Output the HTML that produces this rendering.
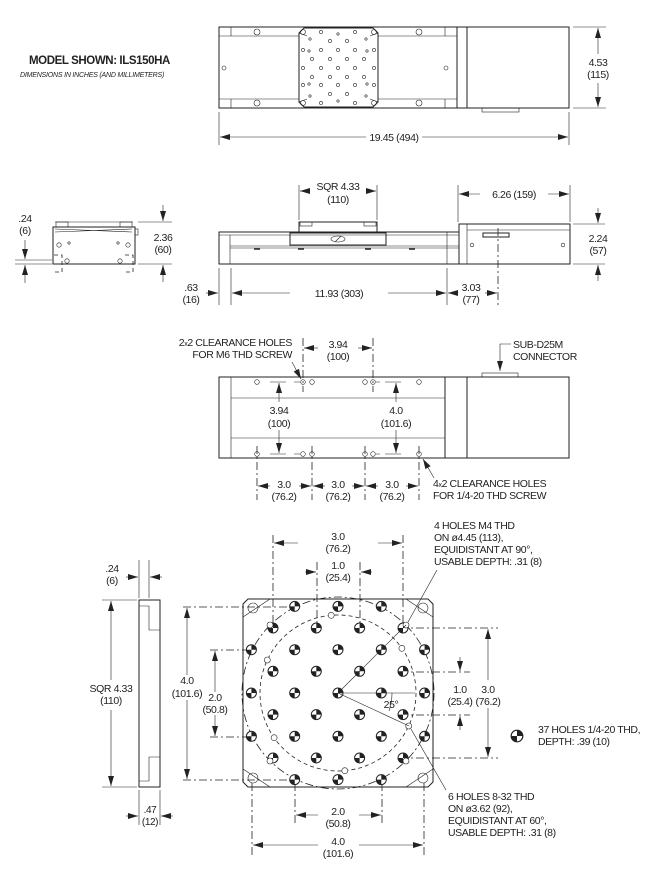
<!DOCTYPE html>
<html><head><meta charset="utf-8"><style>
html,body{margin:0;padding:0;background:#fff}
svg{display:block}
text{font-family:"Liberation Sans",sans-serif;font-size:10.5px;fill:#222;letter-spacing:-0.4px}
.m{text-anchor:middle}
.l{stroke:#222;stroke-width:1;fill:none}
.t{stroke:#222;stroke-width:0.6;fill:none}
.d{stroke:#222;stroke-width:0.8;fill:none;stroke-dasharray:8 3 2 3}
.dd{stroke:#222;stroke-width:0.8;fill:none;stroke-dasharray:4 3}
</style></head><body>
<svg width="663" height="879" viewBox="0 0 663 879" xmlns="http://www.w3.org/2000/svg">
<defs>
<marker id="a" viewBox="0 0 10 6" refX="10" refY="3" markerWidth="10" markerHeight="6" orient="auto-start-reverse" markerUnits="userSpaceOnUse"><path d="M0,0 L10,3 L0,6 z" fill="#222"/></marker>
<symbol id="h" viewBox="-6 -6 12 12" width="12" height="12" overflow="visible">
<circle r="5" fill="#fff" stroke="#222" stroke-width="1"/>
<path d="M0,0 L5,0 A5,5 0 0 0 0,-5 Z M0,0 L-5,0 A5,5 0 0 0 0,5 Z" fill="#222"/>
</symbol>
</defs>

<!-- title -->
<text x="29" y="64" style="font-weight:bold;font-size:11.5px">MODEL SHOWN: ILS150HA</text>
<text x="20" y="77" style="font-style:italic;font-size:7px;letter-spacing:-0.2px">DIMENSIONS IN INCHES (AND MILLIMETERS)</text>

<!-- TOP VIEW -->
<rect x="219" y="27" width="350" height="81" class="l"/>
<line x1="231" y1="27" x2="231" y2="36" class="t"/><line x1="231" y1="99" x2="231" y2="108" class="t"/>
<line x1="219" y1="36" x2="299" y2="36" class="t"/><line x1="378" y1="36" x2="457" y2="36" class="t"/>
<line x1="219" y1="99" x2="299" y2="99" class="t"/><line x1="378" y1="99" x2="457" y2="99" class="t"/>
<line x1="445" y1="27" x2="445" y2="36" class="t"/><line x1="445" y1="99" x2="445" y2="108" class="t"/>
<line x1="457" y1="27" x2="457" y2="108" class="l"/><line x1="467" y1="27" x2="467" y2="108" class="l"/>
<path d="M304,28 L373,28 L378,33 L378,102 L373,107 L304,107 L299,102 L299,33 Z" class="l" fill="#fff"/>
<path d="M299,33 L307,36 M378,33 L370,36 M299,102 L307,99 M378,102 L370,99" class="t"/>
<g class="t">
<circle cx="257" cy="32" r="3"/><circle cx="419" cy="32" r="3"/><circle cx="257" cy="103" r="3"/><circle cx="419" cy="103" r="3"/>
<circle cx="303" cy="32" r="2.5"/><circle cx="374" cy="32" r="2.5"/><circle cx="303" cy="103" r="2.5"/><circle cx="374" cy="103" r="2.5"/>
<circle cx="224" cy="68" r="2"/><circle cx="446" cy="68" r="2"/>
<circle cx="321" cy="32" r="1.6"/><circle cx="338" cy="34" r="1.2"/><circle cx="355" cy="32" r="1.6"/>
<circle cx="310" cy="39" r="1.2"/><circle cx="330" cy="41" r="1.6"/><circle cx="347" cy="41" r="1.6"/><circle cx="366" cy="39" r="1.2"/>
<circle cx="303" cy="50" r="1.6"/><circle cx="309" cy="51" r="1.2"/><circle cx="321" cy="50" r="1.6"/><circle cx="338" cy="50" r="1.6"/><circle cx="355" cy="50" r="1.6"/><circle cx="367" cy="51" r="1.2"/><circle cx="374" cy="50" r="1.6"/>
<circle cx="312" cy="59" r="1.6"/><circle cx="330" cy="59" r="1.6"/><circle cx="347" cy="59" r="1.6"/><circle cx="364" cy="59" r="1.6"/>
<circle cx="303" cy="68" r="1.6"/><circle cx="321" cy="68" r="1.6"/><circle cx="338" cy="68" r="1.6"/><circle cx="355" cy="68" r="1.6"/><circle cx="374" cy="68" r="1.6"/>
<circle cx="312" cy="77" r="1.6"/><circle cx="330" cy="77" r="1.6"/><circle cx="347" cy="77" r="1.6"/><circle cx="364" cy="77" r="1.6"/>
<circle cx="303" cy="85" r="1.6"/><circle cx="309" cy="84" r="1.2"/><circle cx="321" cy="85" r="1.6"/><circle cx="338" cy="85" r="1.6"/><circle cx="355" cy="85" r="1.6"/><circle cx="367" cy="84" r="1.2"/><circle cx="374" cy="85" r="1.6"/>
<circle cx="310" cy="96" r="1.2"/><circle cx="330" cy="94" r="1.6"/><circle cx="347" cy="94" r="1.6"/><circle cx="366" cy="96" r="1.2"/>
<circle cx="321" cy="103" r="1.6"/><circle cx="338" cy="101" r="1.2"/><circle cx="355" cy="103" r="1.6"/>
</g>
<rect x="482" y="108" width="37" height="4" class="t"/>
<line x1="219" y1="112" x2="219" y2="145" class="t"/><line x1="569" y1="112" x2="569" y2="145" class="t"/>
<line x1="220" y1="137" x2="366" y2="137" class="t" marker-start="url(#a)"/><line x1="422" y1="137" x2="568" y2="137" class="t" marker-end="url(#a)"/>
<text x="394" y="141" class="m">19.45 (494)</text>
<line x1="573" y1="27" x2="606" y2="27" class="t"/><line x1="573" y1="108" x2="606" y2="108" class="t"/>
<line x1="598" y1="54" x2="598" y2="28" class="t" marker-end="url(#a)"/><line x1="598" y1="83" x2="598" y2="107" class="t" marker-end="url(#a)"/>
<text x="598" y="66" class="m">4.53</text><text x="598" y="78" class="m">(115)</text>

<!-- END VIEW -->
<rect x="56" y="222" width="12" height="5" class="t"/><rect x="120" y="222" width="12" height="5" class="t"/>
<line x1="55" y1="222" x2="133" y2="222" class="t"/>
<rect x="53" y="227" width="82" height="37" class="l"/>
<path d="M55,229 L132,232 M55,232 L132,229" class="t"/>
<rect x="135" y="229" width="3" height="6" class="t"/>
<g class="t"><circle cx="59" cy="245" r="2.2"/><circle cx="69" cy="243" r="1.2"/><circle cx="118" cy="243" r="1.2"/><circle cx="128" cy="245" r="2.2"/><circle cx="67" cy="261" r="2.2"/><circle cx="120" cy="261" r="2.2"/></g>
<path d="M54,255 h8 v17 h-8 M125,255 h8 v17 h-8" class="dd"/>
<line x1="15" y1="260" x2="52" y2="260" class="t"/><line x1="15" y1="264" x2="52" y2="264" class="t"/>
<line x1="25" y1="240" x2="25" y2="259" class="t" marker-end="url(#a)"/><line x1="25" y1="283" x2="25" y2="265" class="t" marker-end="url(#a)"/>
<text x="25" y="222" class="m">.24</text><text x="25" y="234" class="m">(6)</text>
<line x1="138" y1="222" x2="172" y2="222" class="t"/><line x1="138" y1="264" x2="172" y2="264" class="t"/>
<line x1="163" y1="205" x2="163" y2="221" class="t" marker-end="url(#a)"/><line x1="163" y1="282" x2="163" y2="265" class="t" marker-end="url(#a)"/>
<text x="163" y="241" class="m">2.36</text><text x="163" y="253" class="m">(60)</text>

<!-- SIDE VIEW -->
<rect x="219" y="232" width="240" height="32" class="l"/>
<line x1="230" y1="235" x2="230" y2="264" class="t"/>
<line x1="219" y1="235" x2="459" y2="235" class="t"/>
<line x1="230" y1="246" x2="459" y2="246" class="t"/><line x1="230" y1="248" x2="459" y2="248" class="t"/>
<line x1="447" y1="232" x2="447" y2="264" class="t"/>
<path d="M459,232 L459,224 L570,224 L570,264 L459,264" class="l"/>
<line x1="467" y1="224" x2="467" y2="264" class="t"/><line x1="467" y1="230" x2="570" y2="230" class="t"/>
<rect x="483" y="233" width="26" height="4" class="l" fill="#888"/>
<circle cx="472" cy="245" r="1.8" class="t"/><circle cx="563" cy="245" r="1.8" class="t"/>
<rect x="299" y="222" width="78" height="10" class="l" fill="#fff"/>
<rect x="300" y="222" width="12" height="4" class="t"/><rect x="364" y="222" width="12" height="4" class="t"/>
<rect x="290" y="233" width="96" height="12" class="l" fill="#fff"/>
<ellipse cx="338" cy="239" rx="7" ry="3" class="t"/><path d="M335,242 L341,236" class="t"/>
<path d="M254,249 h6 M298,249 h6 M365,249 h6 M409,249 h6" stroke="#222" stroke-width="1.5"/>
<line x1="299" y1="185" x2="299" y2="220" class="t"/><line x1="377" y1="185" x2="377" y2="220" class="t"/>
<line x1="310" y1="191" x2="300" y2="191" class="t" marker-end="url(#a)"/><line x1="366" y1="191" x2="376" y2="191" class="t" marker-end="url(#a)"/>
<text x="338" y="190" class="m">SQR 4.33</text><text x="338" y="203" class="m">(110)</text>
<line x1="458" y1="185" x2="458" y2="222" class="t"/><line x1="570" y1="185" x2="570" y2="222" class="t"/>
<line x1="480" y1="194" x2="459" y2="194" class="t" marker-end="url(#a)"/><line x1="548" y1="194" x2="569" y2="194" class="t" marker-end="url(#a)"/>
<text x="514" y="198" class="m">6.26 (159)</text>
<line x1="573" y1="224" x2="605" y2="224" class="t"/><line x1="573" y1="264" x2="605" y2="264" class="t"/>
<line x1="598" y1="208" x2="598" y2="223" class="t" marker-end="url(#a)"/><line x1="598" y1="281" x2="598" y2="265" class="t" marker-end="url(#a)"/>
<text x="598" y="242" class="m">2.24</text><text x="598" y="254" class="m">(57)</text>
<line x1="219" y1="268" x2="219" y2="305" class="t"/><line x1="231" y1="268" x2="231" y2="305" class="t"/><line x1="447" y1="268" x2="447" y2="305" class="t"/>
<line x1="498" y1="228" x2="498" y2="305" class="d"/>
<line x1="206" y1="293" x2="218" y2="293" class="t" marker-end="url(#a)"/>
<text x="191" y="291" class="m">.63</text><text x="191" y="303" class="m">(16)</text>
<line x1="290" y1="293" x2="232" y2="293" class="t" marker-end="url(#a)"/><line x1="388" y1="293" x2="446" y2="293" class="t" marker-end="url(#a)"/>
<text x="339" y="297" class="m">11.93 (303)</text>
<line x1="458" y1="293" x2="448" y2="293" class="t" marker-end="url(#a)"/><line x1="485" y1="293" x2="497" y2="293" class="t" marker-end="url(#a)"/>
<text x="471" y="291" class="m">3.03</text><text x="471" y="303" class="m">(77)</text>

<!-- BOTTOM VIEW -->
<rect x="219" y="377" width="350" height="81" class="l"/>
<line x1="231" y1="377" x2="231" y2="458" class="t"/>
<line x1="231" y1="398" x2="445" y2="398" class="t"/><line x1="231" y1="438" x2="445" y2="438" class="t"/>
<line x1="445" y1="377" x2="445" y2="458" class="l"/><line x1="467" y1="377" x2="467" y2="458" class="l"/>
<rect x="482" y="373" width="36" height="4" class="t"/>
<g class="t">
<circle cx="257" cy="382" r="2.3"/><circle cx="303" cy="382" r="2.3"/><circle cx="312" cy="382" r="2.3"/><circle cx="365" cy="382" r="2.3"/><circle cx="373" cy="382" r="2.3"/><circle cx="419" cy="382" r="2.3"/>
<circle cx="257" cy="454" r="2.3"/><circle cx="303" cy="454" r="2.3"/><circle cx="312" cy="454" r="2.3"/><circle cx="365" cy="454" r="2.3"/><circle cx="373" cy="454" r="2.3"/><circle cx="419" cy="454" r="2.3"/>
</g>
<path d="M270,382 h16 M294,382 h6 M376,382 h4 M385,382 h16 M270,454 h16 M294,454 h6 M376,454 h4 M385,454 h16" class="t"/>
<line x1="303" y1="338" x2="303" y2="392" class="d"/><line x1="373" y1="338" x2="373" y2="392" class="d"/>
<line x1="257" y1="446" x2="257" y2="500" class="d"/><line x1="312" y1="446" x2="312" y2="500" class="d"/><line x1="365" y1="446" x2="365" y2="500" class="d"/><line x1="419" y1="446" x2="419" y2="500" class="d"/>
<line x1="318" y1="348" x2="304" y2="348" class="t" marker-end="url(#a)"/><line x1="358" y1="348" x2="372" y2="348" class="t" marker-end="url(#a)"/>
<text x="338" y="348" class="m">3.94</text><text x="338" y="360" class="m">(100)</text>
<text x="292" y="346" style="text-anchor:end">2<tspan style="font-size:7px">x</tspan>2 CLEARANCE HOLES</text>
<text x="292" y="358" style="text-anchor:end">FOR M6 THD SCREW</text>
<line x1="292" y1="362" x2="301" y2="379" class="t" marker-end="url(#a)"/>
<text x="513" y="348">SUB-D25M</text><text x="513" y="360">CONNECTOR</text>
<path d="M511,344 L500,344 L500,371" class="t" marker-end="url(#a)"/>
<line x1="279" y1="402" x2="279" y2="383" class="t" marker-end="url(#a)"/><line x1="279" y1="430" x2="279" y2="453" class="t" marker-end="url(#a)"/>
<text x="279" y="414" class="m">3.94</text><text x="279" y="427" class="m">(100)</text>
<line x1="396" y1="402" x2="396" y2="383" class="t" marker-end="url(#a)"/><line x1="396" y1="430" x2="396" y2="453" class="t" marker-end="url(#a)"/>
<text x="396" y="414" class="m">4.0</text><text x="396" y="427" class="m">(101.6)</text>
<g class="t">
<line x1="270" y1="486" x2="258" y2="486" marker-end="url(#a)"/><line x1="299" y1="486" x2="311" y2="486" marker-end="url(#a)"/>
<line x1="325" y1="486" x2="313" y2="486" marker-end="url(#a)"/><line x1="352" y1="486" x2="364" y2="486" marker-end="url(#a)"/>
<line x1="378" y1="486" x2="366" y2="486" marker-end="url(#a)"/><line x1="406" y1="486" x2="418" y2="486" marker-end="url(#a)"/>
</g>
<text x="284" y="488" class="m">3.0</text><text x="284" y="500" class="m">(76.2)</text>
<text x="338" y="488" class="m">3.0</text><text x="338" y="500" class="m">(76.2)</text>
<text x="392" y="488" class="m">3.0</text><text x="392" y="500" class="m">(76.2)</text>
<text x="433" y="487">4<tspan style="font-size:7px">x</tspan>2 CLEARANCE HOLES</text>
<text x="433" y="499">FOR 1/4-20 THD SCREW</text>
<line x1="434" y1="478" x2="423" y2="459" class="t" marker-end="url(#a)"/>

<!-- PLATE SIDE -->
<path d="M139,600 L160,600 L160,787 L139,787 Z" class="l"/>
<path d="M139,606 L149,606 L149,630 L160,630 M139,781 L149,781 L149,757 L160,757" class="t"/>
<line x1="139" y1="560" x2="139" y2="598" class="t"/><line x1="149" y1="560" x2="149" y2="598" class="t"/>
<line x1="126" y1="577" x2="138" y2="577" class="t" marker-end="url(#a)"/><line x1="162" y1="577" x2="150" y2="577" class="t" marker-end="url(#a)"/>
<text x="112" y="572" class="m">.24</text><text x="112" y="584" class="m">(6)</text>
<line x1="139" y1="790" x2="139" y2="825" class="t"/><line x1="160" y1="790" x2="160" y2="825" class="t"/>
<line x1="126" y1="816" x2="138" y2="816" class="t" marker-end="url(#a)"/><line x1="173" y1="816" x2="161" y2="816" class="t" marker-end="url(#a)"/>
<text x="150" y="813" class="m" style="font-size:10px">.47</text><text x="150" y="825" class="m" style="font-size:10px">(12)</text>
<line x1="102" y1="600" x2="137" y2="600" class="t"/><line x1="102" y1="787" x2="137" y2="787" class="t"/>
<line x1="111" y1="680" x2="111" y2="601" class="t" marker-end="url(#a)"/><line x1="111" y1="710" x2="111" y2="786" class="t" marker-end="url(#a)"/>
<text x="111" y="692" class="m">SQR 4.33</text><text x="111" y="704" class="m">(110)</text>

<!-- PLATE TOP -->
<path d="M248,599 L428,599 L433,604 L433,782 L428,787 L248,787 L243,782 L243,604 Z" class="l"/>
<path d="M243,617 L270,599 M243,769 L270,787 M433,617 L406,599 M433,769 L406,787" class="t"/>
<g class="t"><circle cx="253" cy="608" r="5"/><circle cx="423" cy="608" r="5"/><circle cx="253" cy="778" r="5"/><circle cx="423" cy="778" r="5"/></g>
<circle cx="338" cy="693" r="96" class="d"/>
<circle cx="338" cy="693" r="78" class="dd"/>
<!-- center lines -->
<line x1="183" y1="607" x2="300" y2="607" class="d"/><line x1="183" y1="780" x2="300" y2="780" class="d"/>
<line x1="210" y1="650" x2="255" y2="650" class="d"/><line x1="210" y1="737" x2="255" y2="737" class="d"/>
<line x1="400" y1="628" x2="498" y2="628" class="d"/><line x1="400" y1="758" x2="498" y2="758" class="d"/>
<line x1="400" y1="672" x2="470" y2="672" class="d"/><line x1="400" y1="715" x2="470" y2="715" class="d"/>
<line x1="273" y1="535" x2="273" y2="630" class="d"/><line x1="403" y1="535" x2="403" y2="630" class="d"/>
<line x1="317" y1="562" x2="317" y2="630" class="d"/><line x1="360" y1="562" x2="360" y2="630" class="d"/>
<line x1="252" y1="783" x2="252" y2="855" class="d"/><line x1="424" y1="783" x2="424" y2="855" class="d"/>
<line x1="295" y1="783" x2="295" y2="825" class="d"/><line x1="382" y1="783" x2="382" y2="825" class="d"/>
<!-- 37 holes -->
<use href="#h" x="288.7" y="600.4"/><use href="#h" x="332" y="600.4"/><use href="#h" x="375.3" y="600.4"/>
<use href="#h" x="245.4" y="643.7"/><use href="#h" x="288.7" y="643.7"/><use href="#h" x="332" y="643.7"/><use href="#h" x="375.3" y="643.7"/><use href="#h" x="418.6" y="643.7"/>
<use href="#h" x="245.4" y="687"/><use href="#h" x="288.7" y="687"/><use href="#h" x="332" y="687"/><use href="#h" x="375.3" y="687"/><use href="#h" x="418.6" y="687"/>
<use href="#h" x="245.4" y="730.3"/><use href="#h" x="288.7" y="730.3"/><use href="#h" x="332" y="730.3"/><use href="#h" x="375.3" y="730.3"/><use href="#h" x="418.6" y="730.3"/>
<use href="#h" x="288.7" y="773.6"/><use href="#h" x="332" y="773.6"/><use href="#h" x="375.3" y="773.6"/>
<use href="#h" x="267" y="622"/><use href="#h" x="310.3" y="622"/><use href="#h" x="353.6" y="622"/><use href="#h" x="397" y="622"/>
<use href="#h" x="267" y="665.3"/><use href="#h" x="310.3" y="665.3"/><use href="#h" x="353.6" y="665.3"/><use href="#h" x="397" y="665.3"/>
<use href="#h" x="267" y="708.6"/><use href="#h" x="310.3" y="708.6"/><use href="#h" x="353.6" y="708.6"/><use href="#h" x="397" y="708.6"/>
<use href="#h" x="267" y="752"/><use href="#h" x="310.3" y="752"/><use href="#h" x="353.6" y="752"/><use href="#h" x="397" y="752"/>
<!-- small holes -->
<g class="t" fill="#fff">
<circle cx="406" cy="625" r="3" fill="#fff"/><circle cx="270" cy="625" r="3" fill="#fff"/><circle cx="270" cy="761" r="3" fill="#fff"/><circle cx="406" cy="761" r="3" fill="#fff"/>
<circle cx="408.7" cy="726" r="3" fill="#fff"/><circle cx="344.8" cy="770.7" r="3" fill="#fff"/><circle cx="274.1" cy="737.7" r="3" fill="#fff"/><circle cx="267.3" cy="660" r="3" fill="#fff"/><circle cx="331.2" cy="615.3" r="3" fill="#fff"/><circle cx="401.9" cy="648.3" r="3" fill="#fff"/>
</g>
<line x1="338" y1="693" x2="406" y2="625" class="t"/>
<line x1="338" y1="693" x2="409" y2="726" class="t"/>
<line x1="338" y1="693" x2="415" y2="693" class="t"/>
<path d="M392,693 A54,54 0 0 1 389,711" class="t"/>
<text x="391" y="708" class="m">25°</text>
<!-- dims -->
<line x1="298" y1="543" x2="274" y2="543" class="t" marker-end="url(#a)"/><line x1="378" y1="543" x2="402" y2="543" class="t" marker-end="url(#a)"/>
<text x="338" y="540" class="m">3.0</text><text x="338" y="552" class="m">(76.2)</text>
<line x1="305" y1="572" x2="316" y2="572" class="t" marker-end="url(#a)"/><line x1="372" y1="572" x2="361" y2="572" class="t" marker-end="url(#a)"/>
<text x="338" y="569" class="m">1.0</text><text x="338" y="581" class="m">(25.4)</text>
<line x1="187" y1="675" x2="187" y2="608" class="t" marker-end="url(#a)"/><line x1="187" y1="700" x2="187" y2="779" class="t" marker-end="url(#a)"/>
<text x="187" y="684" class="m">4.0</text><text x="187" y="697" class="m">(101.6)</text>
<line x1="215" y1="692" x2="215" y2="651" class="t" marker-end="url(#a)"/><line x1="215" y1="715" x2="215" y2="736" class="t" marker-end="url(#a)"/>
<text x="215" y="701" class="m">2.0</text><text x="215" y="713" class="m">(50.8)</text>
<line x1="318" y1="815" x2="296" y2="815" class="t" marker-end="url(#a)"/><line x1="359" y1="815" x2="381" y2="815" class="t" marker-end="url(#a)"/>
<text x="338" y="815" class="m">2.0</text><text x="338" y="827" class="m">(50.8)</text>
<line x1="318" y1="845" x2="253" y2="845" class="t" marker-end="url(#a)"/><line x1="359" y1="845" x2="423" y2="845" class="t" marker-end="url(#a)"/>
<text x="338" y="845" class="m">4.0</text><text x="338" y="857" class="m">(101.6)</text>
<line x1="488" y1="680" x2="488" y2="629" class="t" marker-end="url(#a)"/><line x1="488" y1="708" x2="488" y2="757" class="t" marker-end="url(#a)"/>
<text x="488" y="693" class="m">3.0</text><text x="488" y="705" class="m">(76.2)</text>
<line x1="460" y1="657" x2="460" y2="671" class="t" marker-end="url(#a)"/><line x1="460" y1="730" x2="460" y2="716" class="t" marker-end="url(#a)"/>
<text x="460" y="693" class="m">1.0</text><text x="460" y="705" class="m">(25.4)</text>
<!-- notes -->
<text x="434" y="529">4 HOLES M4 THD</text><text x="434" y="541">ON ø4.45 (113),</text><text x="434" y="553">EQUIDISTANT AT 90°,</text><text x="434" y="565">USABLE DEPTH: .31 (8)</text>
<line x1="437" y1="570" x2="408" y2="622" class="t"/>
<use href="#h" x="510" y="729" width="14" height="14"/>
<text x="538" y="733">37 HOLES 1/4-20 THD,</text><text x="538" y="745">DEPTH: .39 (10)</text>
<text x="448" y="800">6 HOLES 8-32 THD</text><text x="448" y="812">ON ø3.62 (92),</text><text x="448" y="824">EQUIDISTANT AT 60°,</text><text x="448" y="836">USABLE DEPTH: .31 (8)</text>
<line x1="446" y1="790" x2="411" y2="729" class="t"/>
</svg>
</body></html>
